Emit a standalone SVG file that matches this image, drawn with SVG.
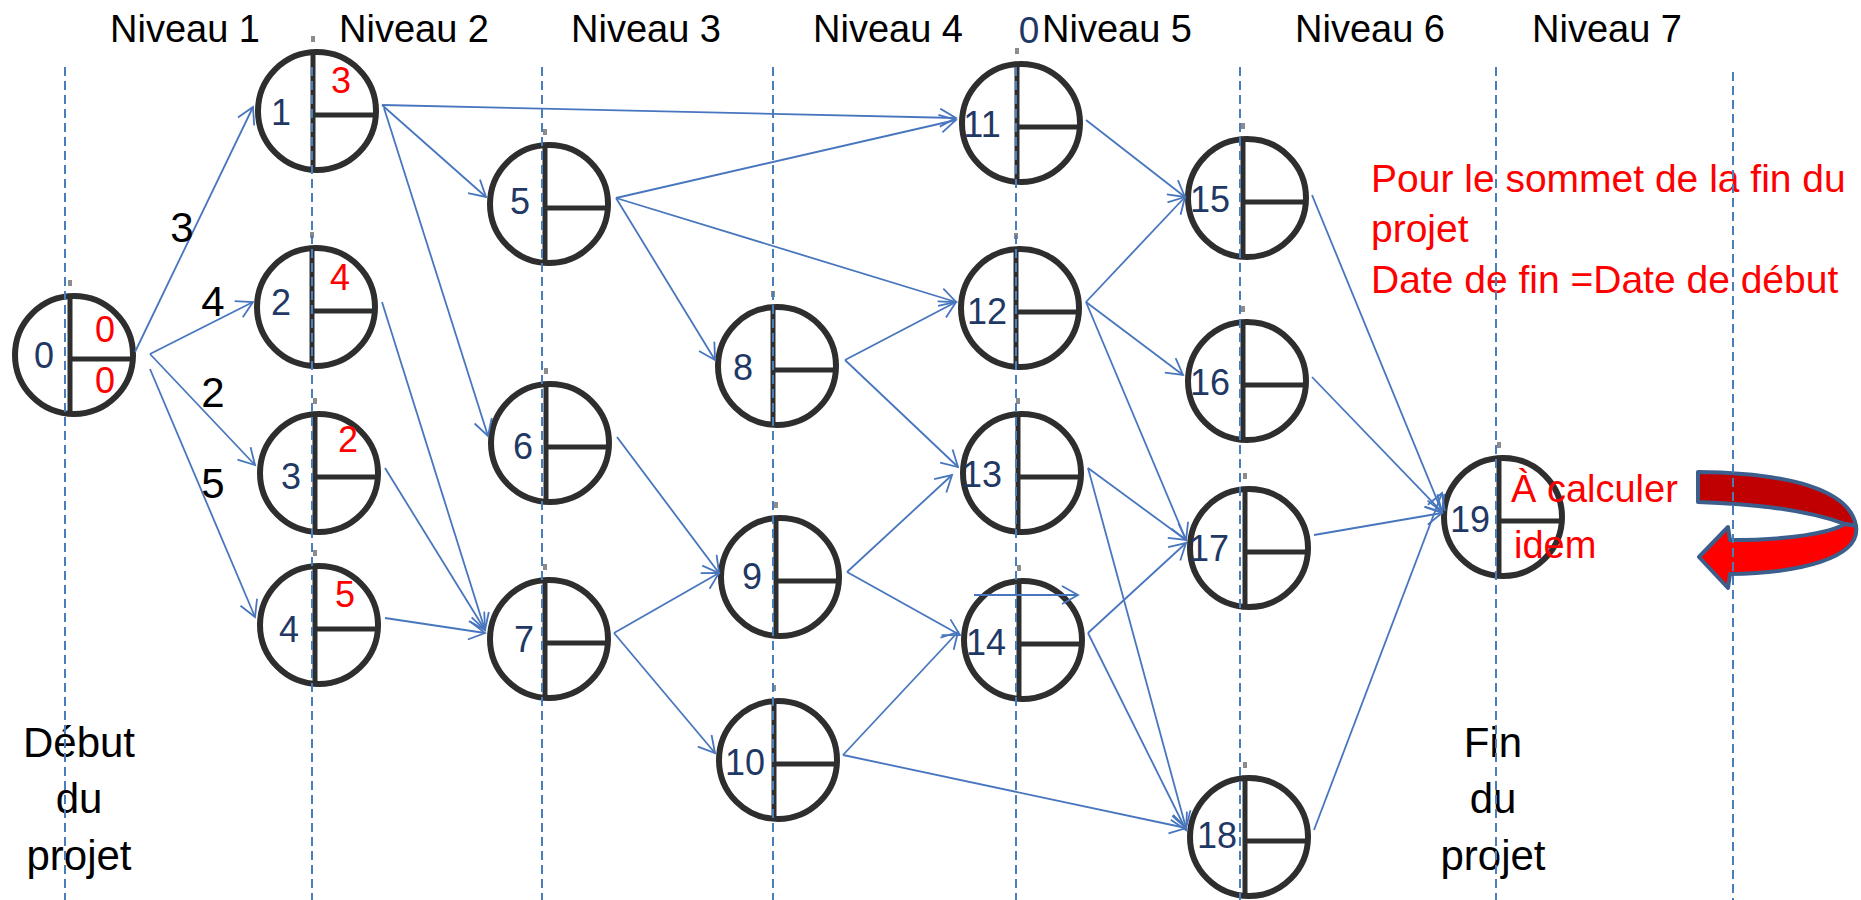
<svg xmlns="http://www.w3.org/2000/svg" width="1861" height="900" viewBox="0 0 1861 900">
<style>
.ring{fill:#fff;stroke:#2e2e2e;stroke-width:6}
.dv{stroke:#2e2e2e;stroke-width:5}
.tick{fill:#8c8c8c}
text{font-family:"Liberation Sans",Arial,sans-serif}
.num{font-size:36px;fill:#1F3864;text-anchor:middle}
.val{font-size:36px;fill:#FF0000;text-anchor:middle}
.hdr{font-size:38px;fill:#000;text-anchor:middle}
.lbl{font-size:42px;fill:#000;text-anchor:middle}
.note{font-size:39px;fill:#FF0000}
.edge{stroke:#4876BE;stroke-width:1.8;fill:none;marker-end:url(#ah)}
.guide{stroke:#4A7EBB;stroke-width:2;stroke-dasharray:9 5;fill:none}
</style>
<defs>
<marker id="ah" markerUnits="userSpaceOnUse" markerWidth="22" markerHeight="22" refX="18" refY="10" orient="auto">
<path d="M2,1 L18,10 L2,19" fill="none" stroke="#4876BE" stroke-width="1.8"/>
</marker>
<filter id="soft" x="-10%" y="-10%" width="120%" height="120%"><feGaussianBlur stdDeviation="0.7"/></filter>
</defs>
<rect width="1861" height="900" fill="#fff"/>

<g id="headers">
<text class="hdr" x="185" y="42">Niveau 1</text>
<text class="hdr" x="414" y="42">Niveau 2</text>
<text class="hdr" x="646" y="42">Niveau 3</text>
<text class="hdr" x="888" y="42">Niveau 4</text>
<text x="1029" y="43" style="font-size:37px;fill:#1F3864;text-anchor:middle">0</text>
<text class="hdr" x="1117" y="42">Niveau 5</text>
<text class="hdr" x="1370" y="42">Niveau 6</text>
<text class="hdr" x="1607" y="42">Niveau 7</text>
</g>

<g id="n0"><g filter="url(#soft)"><rect class="tick" x="68" y="280" width="4" height="6"/><circle class="ring" cx="74" cy="355" r="59"/><line class="dv" x1="70" y1="295" x2="70" y2="415"/><line class="dv" x1="70" y1="359" x2="133" y2="359"/></g><text class="num" x="44" y="368">0</text><text class="val" x="105" y="342">0</text><text class="val" x="105" y="393">0</text></g>
<g id="n1"><g filter="url(#soft)"><rect class="tick" x="311" y="36" width="4" height="6"/><circle class="ring" cx="317" cy="111" r="59"/><line class="dv" x1="313" y1="51" x2="313" y2="171"/><line class="dv" x1="313" y1="115" x2="376" y2="115"/></g><text class="num" x="281" y="125">1</text><text class="val" x="341" y="93">3</text></g>
<g id="n2"><g filter="url(#soft)"><rect class="tick" x="310" y="232" width="4" height="6"/><circle class="ring" cx="316" cy="307" r="59"/><line class="dv" x1="312" y1="247" x2="312" y2="367"/><line class="dv" x1="312" y1="311" x2="375" y2="311"/></g><text class="num" x="281" y="315">2</text><text class="val" x="340" y="290">4</text></g>
<g id="n3"><g filter="url(#soft)"><rect class="tick" x="313" y="398" width="4" height="6"/><circle class="ring" cx="319" cy="473" r="59"/><line class="dv" x1="315" y1="413" x2="315" y2="533"/><line class="dv" x1="315" y1="477" x2="378" y2="477"/></g><text class="num" x="291" y="489">3</text><text class="val" x="348" y="452">2</text></g>
<g id="n4"><g filter="url(#soft)"><rect class="tick" x="313" y="550" width="4" height="6"/><circle class="ring" cx="319" cy="625" r="59"/><line class="dv" x1="315" y1="565" x2="315" y2="685"/><line class="dv" x1="315" y1="629" x2="378" y2="629"/></g><text class="num" x="289" y="642">4</text><text class="val" x="345" y="607">5</text></g>
<g id="n5"><g filter="url(#soft)"><rect class="tick" x="543" y="129" width="4" height="6"/><circle class="ring" cx="549" cy="204" r="59"/><line class="dv" x1="545" y1="144" x2="545" y2="264"/><line class="dv" x1="545" y1="208" x2="608" y2="208"/></g><text class="num" x="520" y="214">5</text></g>
<g id="n6"><g filter="url(#soft)"><rect class="tick" x="544" y="368" width="4" height="6"/><circle class="ring" cx="550" cy="443" r="59"/><line class="dv" x1="546" y1="383" x2="546" y2="503"/><line class="dv" x1="546" y1="447" x2="609" y2="447"/></g><text class="num" x="523" y="459">6</text></g>
<g id="n7"><g filter="url(#soft)"><rect class="tick" x="543" y="564" width="4" height="6"/><circle class="ring" cx="549" cy="639" r="59"/><line class="dv" x1="545" y1="579" x2="545" y2="699"/><line class="dv" x1="545" y1="643" x2="608" y2="643"/></g><text class="num" x="524" y="652">7</text></g>
<g id="n8"><g filter="url(#soft)"><rect class="tick" x="771" y="291" width="4" height="6"/><circle class="ring" cx="777" cy="366" r="59"/><line class="dv" x1="773" y1="306" x2="773" y2="426"/><line class="dv" x1="773" y1="370" x2="836" y2="370"/></g><text class="num" x="743" y="380">8</text></g>
<g id="n9"><g filter="url(#soft)"><rect class="tick" x="774" y="502" width="4" height="6"/><circle class="ring" cx="780" cy="577" r="59"/><line class="dv" x1="776" y1="517" x2="776" y2="637"/><line class="dv" x1="776" y1="581" x2="839" y2="581"/></g><text class="num" x="752" y="589">9</text></g>
<g id="n10"><g filter="url(#soft)"><rect class="tick" x="772" y="685" width="4" height="6"/><circle class="ring" cx="778" cy="760" r="59"/><line class="dv" x1="774" y1="700" x2="774" y2="820"/><line class="dv" x1="774" y1="764" x2="837" y2="764"/></g><text class="num" x="745" y="775">10</text></g>
<g id="n11"><g filter="url(#soft)"><rect class="tick" x="1015" y="48" width="4" height="6"/><circle class="ring" cx="1021" cy="123" r="59"/><line class="dv" x1="1017" y1="63" x2="1017" y2="183"/><line class="dv" x1="1017" y1="127" x2="1080" y2="127"/></g><text class="num" x="982" y="137">11</text></g>
<g id="n12"><g filter="url(#soft)"><rect class="tick" x="1014" y="233" width="4" height="6"/><circle class="ring" cx="1020" cy="308" r="59"/><line class="dv" x1="1016" y1="248" x2="1016" y2="368"/><line class="dv" x1="1016" y1="312" x2="1079" y2="312"/></g><text class="num" x="987" y="324">12</text></g>
<g id="n13"><g filter="url(#soft)"><rect class="tick" x="1016" y="398" width="4" height="6"/><circle class="ring" cx="1022" cy="473" r="59"/><line class="dv" x1="1018" y1="413" x2="1018" y2="533"/><line class="dv" x1="1018" y1="477" x2="1081" y2="477"/></g><text class="num" x="982" y="487">13</text></g>
<g id="n14"><g filter="url(#soft)"><rect class="tick" x="1017" y="565" width="4" height="6"/><circle class="ring" cx="1023" cy="640" r="59"/><line class="dv" x1="1019" y1="580" x2="1019" y2="700"/><line class="dv" x1="1019" y1="644" x2="1082" y2="644"/></g><text class="num" x="986" y="655">14</text></g>
<g id="n15"><g filter="url(#soft)"><rect class="tick" x="1241" y="123" width="4" height="6"/><circle class="ring" cx="1247" cy="198" r="59"/><line class="dv" x1="1243" y1="138" x2="1243" y2="258"/><line class="dv" x1="1243" y1="202" x2="1306" y2="202"/></g><text class="num" x="1210" y="212">15</text></g>
<g id="n16"><g filter="url(#soft)"><rect class="tick" x="1241" y="306" width="4" height="6"/><circle class="ring" cx="1247" cy="381" r="59"/><line class="dv" x1="1243" y1="321" x2="1243" y2="441"/><line class="dv" x1="1243" y1="385" x2="1306" y2="385"/></g><text class="num" x="1210" y="395">16</text></g>
<g id="n17"><g filter="url(#soft)"><rect class="tick" x="1243" y="473" width="4" height="6"/><circle class="ring" cx="1249" cy="548" r="59"/><line class="dv" x1="1245" y1="488" x2="1245" y2="608"/><line class="dv" x1="1245" y1="552" x2="1308" y2="552"/></g><text class="num" x="1209" y="561">17</text></g>
<g id="n18"><g filter="url(#soft)"><rect class="tick" x="1243" y="762" width="4" height="6"/><circle class="ring" cx="1249" cy="837" r="59"/><line class="dv" x1="1245" y1="777" x2="1245" y2="897"/><line class="dv" x1="1245" y1="841" x2="1308" y2="841"/></g><text class="num" x="1217" y="848">18</text></g>
<g id="n19"><g filter="url(#soft)"><rect class="tick" x="1497" y="442" width="4" height="6"/><circle class="ring" cx="1503" cy="517" r="59"/><line class="dv" x1="1499" y1="457" x2="1499" y2="577"/><line class="dv" x1="1499" y1="521" x2="1562" y2="521"/></g><text class="num" x="1470" y="532">19</text></g>

<g id="connectors">
<line class="edge" x1="135" y1="352" x2="253" y2="107"/>
<line class="edge" x1="150" y1="354" x2="253" y2="302"/>
<line class="edge" x1="150" y1="354" x2="255" y2="465"/>
<line class="edge" x1="150" y1="369" x2="255" y2="617"/>
<line class="edge" x1="382" y1="105" x2="486" y2="197"/>
<line class="edge" x1="382" y1="105" x2="956" y2="118"/>
<line class="edge" x1="384" y1="108" x2="488" y2="436"/>
<line class="edge" x1="382" y1="302" x2="485" y2="630"/>
<line class="edge" x1="385" y1="468" x2="485" y2="630"/>
<line class="edge" x1="385" y1="618" x2="485" y2="633"/>
<line class="edge" x1="616" y1="198" x2="956" y2="120"/>
<line class="edge" x1="616" y1="198" x2="956" y2="302"/>
<line class="edge" x1="616" y1="198" x2="715" y2="360"/>
<line class="edge" x1="617" y1="437" x2="719" y2="573"/>
<line class="edge" x1="614" y1="633" x2="719" y2="573"/>
<line class="edge" x1="614" y1="633" x2="715" y2="753"/>
<line class="edge" x1="845" y1="360" x2="956" y2="302"/>
<line class="edge" x1="845" y1="360" x2="958" y2="467"/>
<line class="edge" x1="847" y1="572" x2="952" y2="475"/>
<line class="edge" x1="847" y1="572" x2="960" y2="635"/>
<line class="edge" x1="843" y1="755" x2="958" y2="632"/>
<line class="edge" x1="843" y1="755" x2="1186" y2="828"/>
<line class="edge" x1="1086" y1="120" x2="1185" y2="197"/>
<line class="edge" x1="1086" y1="302" x2="1185" y2="197"/>
<line class="edge" x1="1086" y1="302" x2="1183" y2="375"/>
<line class="edge" x1="1086" y1="302" x2="1186" y2="540"/>
<line class="edge" x1="1088" y1="468" x2="1186" y2="540"/>
<line class="edge" x1="1088" y1="468" x2="1186" y2="828"/>
<line class="edge" x1="1088" y1="633" x2="1186" y2="543"/>
<line class="edge" x1="1088" y1="633" x2="1186" y2="830"/>
<line class="edge" x1="1312" y1="195" x2="1442" y2="512"/>
<line class="edge" x1="1312" y1="377" x2="1442" y2="512"/>
<line class="edge" x1="1314" y1="535" x2="1442" y2="513"/>
<line class="edge" x1="1314" y1="830" x2="1442" y2="493"/>
<line class="edge" x1="974" y1="595" x2="1078" y2="595"/>
</g>

<g id="edge-labels">
<text class="lbl" x="182" y="242">3</text>
<text class="lbl" x="213" y="316">4</text>
<text class="lbl" x="213" y="407">2</text>
<text class="lbl" x="213" y="498">5</text>
</g>

<g id="side-texts">
<text class="lbl" x="79" y="757">Début</text>
<text class="lbl" x="79" y="813">du</text>
<text class="lbl" x="79" y="870">projet</text>
<text class="lbl" x="1493" y="757">Fin</text>
<text class="lbl" x="1493" y="813">du</text>
<text class="lbl" x="1493" y="870">projet</text>
<text class="note" x="1371" y="192">Pour le sommet de la fin du</text>
<text class="note" x="1371" y="242">projet</text>
<text class="note" x="1371" y="293">Date de fin =Date de début</text>
<text class="note" x="1511" y="502" style="font-size:38px">À calculer</text>
<text class="note" x="1514" y="558" style="font-size:38px">idem</text>
</g>

<g id="uturn-arrow" stroke="#3B5E8C" stroke-width="4" stroke-linejoin="round">
<path d="M1698,472 C1790,473 1850,490 1856,526 L1845,524 C1810,511 1760,504 1698,502 Z" fill="#C00000"/>
<path d="M1856,526 C1861,558 1800,573 1730,574 L1728,588 L1699,557 L1728,527 L1730,540 C1790,540 1830,533 1845,524 Z" fill="#FF0000"/>
</g>

<g id="guides">
<line class="guide" x1="65" y1="67" x2="65" y2="900"/>
<line class="guide" x1="312" y1="67" x2="312" y2="900"/>
<line class="guide" x1="542" y1="67" x2="542" y2="900"/>
<line class="guide" x1="773" y1="67" x2="773" y2="900"/>
<line class="guide" x1="1016" y1="67" x2="1016" y2="900"/>
<line class="guide" x1="1240" y1="67" x2="1240" y2="900"/>
<line class="guide" x1="1496" y1="67" x2="1496" y2="900"/>
<line class="guide" x1="1733" y1="72" x2="1733" y2="900"/>
</g>
</svg>
